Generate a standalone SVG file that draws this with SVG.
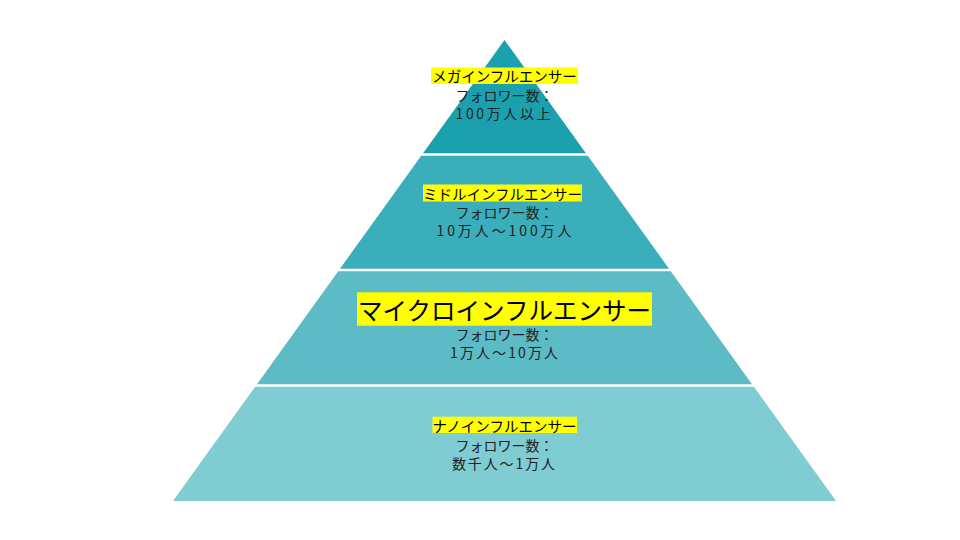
<svg xmlns="http://www.w3.org/2000/svg" width="960" height="540" viewBox="0 0 960 540">
<style>
  .t { font-family: "Noto Sans CJK JP", "Noto Sans", sans-serif; text-anchor: middle; dominant-baseline: central; fill: #222222; font-size: 14px; }
  .title { fill: #000000; font-size: 14.5px; }
  .big { fill: #000000; font-size: 24.5px; }
  .hl { fill: #FFFF00; }
</style>
<rect width="960" height="540" fill="#FFFFFF"/>
<g id="tier-mega">
  <polygon points="504.5,40 585.9,153.2 423.1,153.2" fill="#1BA1AE"/>
  <rect class="hl" x="431" y="67.5" width="147" height="16.5"/>
  <text class="t title" x="504.5" y="75.5">メガインフルエンサー</text>
  <text class="t" x="504.5" y="94.5">フォロワー数：</text>
  <text class="t" x="503" y="112.5" textLength="95" lengthAdjust="spacing">100万人以上</text>
</g>
<g id="tier-middle">
  <polygon points="421.2,155.8 587.8,155.8 669,268.7 340,268.7" fill="#3AAEBB"/>
  <rect class="hl" x="423" y="184.5" width="159" height="17"/>
  <text class="t title" x="502.5" y="193">ミドルインフルエンサー</text>
  <text class="t" x="504.5" y="211.5">フォロワー数：</text>
  <text class="t" x="504" y="229.7" textLength="135" lengthAdjust="spacing">10万人～100万人</text>
</g>
<g id="tier-micro">
  <polygon points="338.2,271.3 670.8,271.3 752,384.2 257,384.2" fill="#5DBBC6"/>
  <rect class="hl" x="357" y="292.3" width="295" height="33.4"/>
  <text class="t big" x="504.5" y="309">マイクロインフルエンサー</text>
  <text class="t" x="504.5" y="334">フォロワー数：</text>
  <text class="t" x="504" y="351.5" textLength="108" lengthAdjust="spacing">1万人～10万人</text>
</g>
<g id="tier-nano">
  <polygon points="255.1,386.8 753.9,386.8 836,501 173,501" fill="#7FCCD3"/>
  <rect class="hl" x="432.5" y="416.7" width="144.5" height="16.3"/>
  <text class="t title" x="504.5" y="425">ナノインフルエンサー</text>
  <text class="t" x="504.5" y="445">フォロワー数：</text>
  <text class="t" x="503.5" y="463" textLength="103" lengthAdjust="spacing">数千人～1万人</text>
</g>
</svg>
